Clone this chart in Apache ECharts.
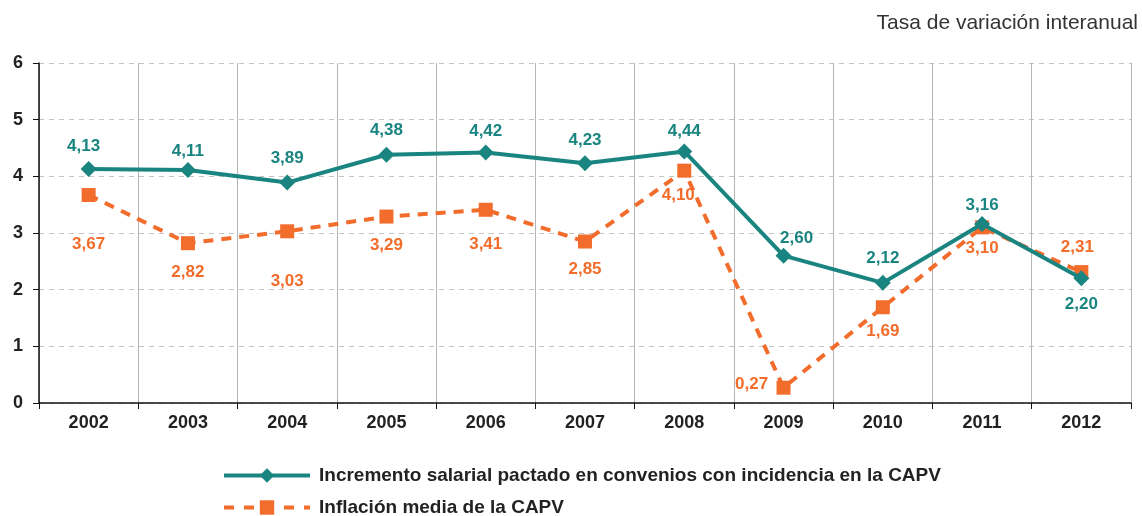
<!DOCTYPE html>
<html>
<head>
<meta charset="utf-8">
<script src="https://cdn.jsdelivr.net/npm/echarts@6/dist/echarts.min.js"></script>
<style>
  html, body { margin: 0; padding: 0; background: #fff; }
  #chart { width: 1142px; height: 516px; }
</style>
</head>
<body>
<div id="chart"></div>
<script>
// datos
const years = ['2002', '2003', '2004', '2005', '2006', '2007', '2008', '2009', '2010', '2011', '2012']
const salario = [4.13, 4.11, 3.89, 4.38, 4.42, 4.23, 4.44, 2.60, 2.12, 3.16, 2.20]
const inflacion = [3.67, 2.82, 3.03, 3.29, 3.41, 2.85, 4.10, 0.27, 1.69, 3.10, 2.31]
const salarioName = 'Incremento salarial pactado en convenios con incidencia en la CAPV'
const inflacionName = 'Inflación media de la CAPV'

// colocacion de etiquetas (dx, dy respecto al punto)
const salarioLabelOff = [[-5, -23], [0, -19], [0, -24], [0, -24], [0, -21], [0, -23], [0, -20], [13, -17], [0, -25], [0, -19], [0, 26]]
const inflacionLabelOff = [[0, 49], [0, 29], [0, 50], [0, 29], [0, 35], [0, 28], [-6, 25], [-32, -3], [0, 24], [0, 21], [-4, -25]]

const teal = '#1a8580'
const orange = '#f26c2b'
const fmt = v => v.toFixed(2).replace('.', ',')

function points (values, offsets, color) {
  return values.map((v, i) => ({
    value: v,
    label: {
      show: true,
      position: 'inside',
      offset: offsets[i],
      color: color,
      fontWeight: 'bold',
      fontSize: 17,
      fontFamily: 'Liberation Sans, Arial, sans-serif',
      formatter: () => fmt(v)
    }
  }))
}

const legendBase = {
  orient: 'horizontal',
  left: 222,
  padding: 0,
  itemWidth: 86,
  itemHeight: 18,
  textStyle: { fontSize: 19, fontWeight: 'bold', color: '#222', padding: [0, 0, 0, 4] }
}

const chart = echarts.init(document.getElementById('chart'))
chart.setOption({
  animation: false,
  textStyle: { fontFamily: 'Liberation Sans, Arial, sans-serif' },
  title: {
    text: 'Tasa de variación interanual',
    right: 4,
    top: 13,
    padding: 0,
    textStyle: { fontSize: 21, fontWeight: 'normal', color: '#333' }
  },
  grid: { left: 39, right: 11, top: 63, bottom: 113 },
  legend: [
    Object.assign({}, legendBase, { top: 466, data: [salarioName], lineStyle: { width: 4 } }),
    Object.assign({}, legendBase, { top: 498, data: [inflacionName], lineStyle: { width: 4, type: [10, 10] } })
  ],
  xAxis: {
    type: 'category',
    data: years,
    boundaryGap: true,
    axisLine: { lineStyle: { color: '#111', width: 1.5 } },
    axisTick: { show: true, length: 6, lineStyle: { color: '#111' } },
    axisLabel: { fontSize: 18, fontWeight: 'bold', color: '#222', margin: 11 },
    splitLine: { show: true, lineStyle: { color: '#b5b5b5', width: 1 } }
  },
  yAxis: {
    type: 'value',
    min: 0,
    max: 6,
    interval: 1,
    axisLine: { show: true, lineStyle: { color: '#111', width: 1.5 } },
    axisTick: { show: true, length: 6, lineStyle: { color: '#111' } },
    axisLabel: { fontSize: 18, fontWeight: 'bold', color: '#222', margin: 16 },
    splitLine: { show: true, lineStyle: { color: '#c4c4c4', type: [5, 5], width: 1 } }
  },
  series: [
    {
      name: inflacionName,
      type: 'line',
      data: points(inflacion, inflacionLabelOff, orange),
      symbol: 'rect',
      symbolSize: 14,
      lineStyle: { color: orange, width: 4, type: [10, 8] },
      itemStyle: { color: orange },
      z: 2
    },
    {
      name: salarioName,
      type: 'line',
      data: points(salario, salarioLabelOff, teal),
      symbol: 'diamond',
      symbolSize: 16,
      lineStyle: { color: teal, width: 4 },
      itemStyle: { color: teal },
      z: 3
    }
  ]
})
</script>
</body>
</html>
